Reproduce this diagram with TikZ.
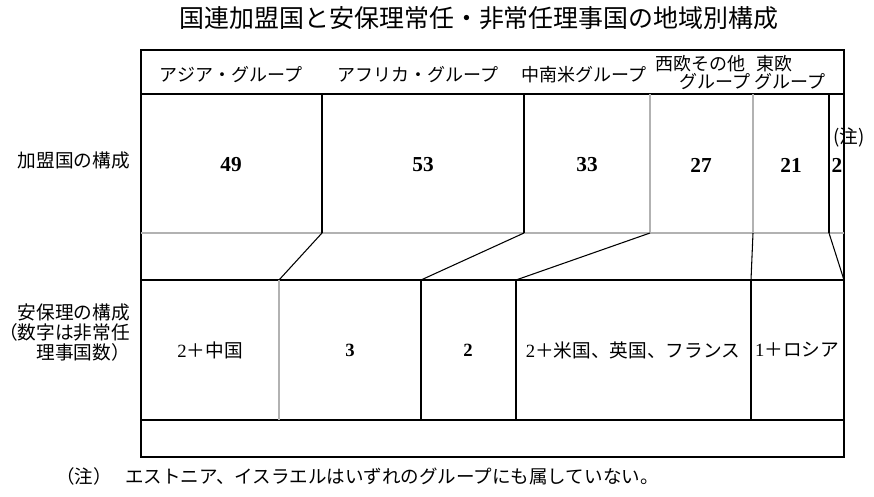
\documentclass[tikz,border=0pt]{standalone}
\usepackage{fontspec}
\setmainfont{Noto Sans CJK JP}
\newfontfamily\numfont{Liberation Serif}

\begin{document}
\begin{tikzpicture}[x=0.75pt, y=-0.75pt,
		every node/.style={inner sep=0pt},
		blk/.style={line width=0.8pt},
		gry/.style={line width=0.8pt, color=gray!60},
		head/.style={font=\fontsize{13.5}{15}\selectfont},
		num/.style={font=\numfont\bfseries\fontsize{16}{18}\selectfont},
		cell/.style={font=\fontsize{14}{16}\selectfont}]
		\useasboundingbox (0,0) rectangle (874,496);
		
		\node (title) at (479,18) {\fontsize{18.7}{22}\selectfont 国連加盟国と安保理常任・非常任理事国の地域別構成};
		
		% boundaries between the two rows
		\coordinate (m1) at (322,233);
		\coordinate (m2) at (524,233);
		\coordinate (m3) at (650,233);
		\coordinate (m4) at (753,233);
		\coordinate (m5) at (829,233);
		\coordinate (s1) at (279,280);
		\coordinate (s2) at (421,280);
		\coordinate (s3) at (516,280);
		\coordinate (s4) at (751,280);
		\coordinate (s5) at (844,280);
		
		\draw [line width=1.3pt] (141,50) rectangle (844,457);
		\draw [blk] (141,94) -- (844,94);
		\draw [gry] (141,233) -- (844,233);
		\draw [blk] (141,280) -- (844,280);
		\draw [blk] (141,420) -- (844,420);
		
		\draw [blk] (322,94) -- (m1);
		\draw [blk] (524,94) -- (m2);
		\draw [gry] (650,94) -- (m3);
		\draw [gry] (753,94) -- (m4);
		\draw [blk] (829,94) -- (m5);
		
		\draw [blk] (m1) -- (s1);
		\draw [blk] (m2) -- (s2);
		\draw [blk] (m3) -- (s3);
		\draw [blk] (m4) -- (s4);
		\draw [blk] (m5) -- (s5);
		
		\draw [gry] (s1) -- (279,420);
		\draw [blk] (s2) -- (421,420);
		\draw [blk] (s3) -- (516,420);
		\draw [blk] (s4) -- (751,420);
		
		\node [head] (asia) at (231,75) {アジア・グループ};
		\node [head] (africa) at (418,75) {アフリカ・グループ};
		\node [head] (latin) at (584,75) {中南米グループ};
		\node [head, anchor=west] (weu) at (655,64) {西欧その他};
		\node [head, anchor=east] (weug) at (751,82) {グループ};
		\node [head, anchor=west] (eeu) at (756,64) {東欧};
		\node [head, anchor=west] (eeug) at (754,82) {グループ};
		
		\node [cell, anchor=east] (lmem) at (130,160) {加盟国の構成};
		\node [cell, anchor=east, align=right, font=\fontsize{14}{15}\selectfont] (lsc) at (130,333) {安保理の構成\\（数字は非常任\\理事国数）};
		
		\node [num] (n49) at (231,165) {49};
		\node [num] (n53) at (423,165) {53};
		\node [num] (n33) at (587,165) {33};
		\node [num] (n27) at (701,165) {27};
		\node [num] (n21) at (791,165) {21};
		\node [num] (n2) at (837,165) {2};
		\node [cell] (note) at (849,137) {(注)};
		
		\node [cell] (c1) at (210,350) {{\numfont 2}＋中国};
		\node [num, font=\numfont\bfseries\fontsize{14}{16}\selectfont] (c2) at (350,350) {3};
		\node [num, font=\numfont\bfseries\fontsize{14}{16}\selectfont] (c3) at (468,350) {2};
		\node [cell] (c4) at (633,350) {{\numfont 2}＋米国、英国、フランス};
		\node [cell] (c5) at (797,350) {{\numfont 1}＋ロシア};
		
		\node [anchor=west, font=\fontsize{13.9}{15}\selectfont] (foot) at (56,476) {（注）\hspace{10pt}エストニア、イスラエルはいずれのグループにも属していない。};
		
	\end{tikzpicture}
\end{document}
